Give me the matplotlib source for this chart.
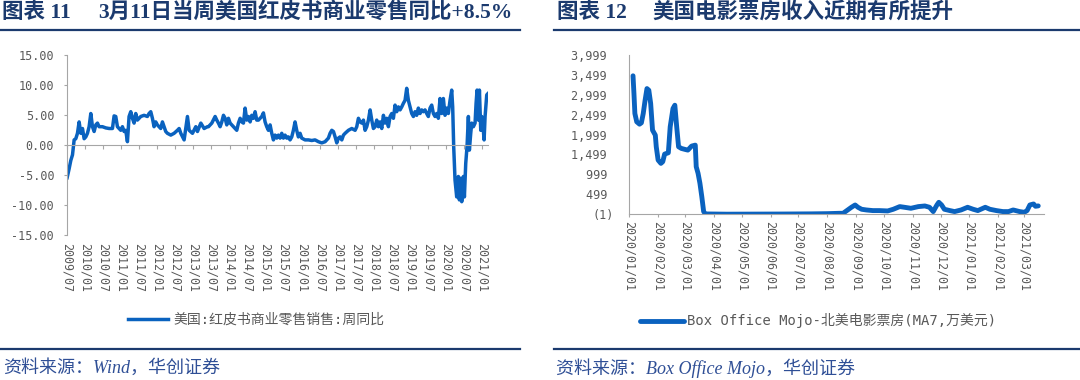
import matplotlib
matplotlib.use('Agg')
import matplotlib.pyplot as plt
import matplotlib.dates as mdates
from matplotlib.lines import Line2D
from matplotlib.ticker import FuncFormatter
from matplotlib.font_manager import FontProperties
from datetime import datetime

plt.rcParams['axes.unicode_minus'] = False

# ---------------- data: left chart (Redbook weekly YoY, %) ----------------
redbook_t = [
    2009.500, 2009.555, 2009.602, 2009.648, 2009.694, 2009.740, 2009.786, 2009.832, 2009.879, 2009.925,
    2009.971, 2010.017, 2010.063, 2010.109, 2010.156, 2010.202, 2010.248, 2010.294, 2010.340, 2010.386,
    2010.479, 2010.571, 2010.663, 2010.756, 2010.802, 2010.848, 2010.894, 2010.940, 2010.987, 2011.033,
    2011.079, 2011.125, 2011.171, 2011.217, 2011.264, 2011.310, 2011.356, 2011.402, 2011.448, 2011.494,
    2011.541, 2011.633, 2011.725, 2011.771, 2011.818, 2011.864, 2011.910, 2011.956, 2012.002, 2012.095,
    2012.141, 2012.187, 2012.233, 2012.279, 2012.372, 2012.464, 2012.556, 2012.603, 2012.649, 2012.741,
    2012.833, 2012.880, 2012.972, 2013.064, 2013.110, 2013.203, 2013.295, 2013.387,
    2013.415, 2013.508, 2013.600, 2013.646, 2013.692, 2013.739, 2013.785, 2013.831, 2013.877, 2013.923,
    2013.969, 2014.016, 2014.108, 2014.200, 2014.246, 2014.293, 2014.339, 2014.385, 2014.431, 2014.477,
    2014.523, 2014.570, 2014.616, 2014.662, 2014.708, 2014.754, 2014.800, 2014.847, 2014.893, 2014.939,
    2014.985, 2015.031, 2015.077, 2015.124, 2015.170, 2015.216, 2015.262, 2015.308, 2015.354, 2015.401,
    2015.447, 2015.493, 2015.539, 2015.585, 2015.631, 2015.678, 2015.724, 2015.770, 2015.816, 2015.862,
    2015.908, 2015.955, 2016.001, 2016.093, 2016.185, 2016.278, 2016.370, 2016.462, 2016.555, 2016.647,
    2016.739, 2016.785, 2016.832, 2016.878, 2016.924, 2016.970, 2017.016, 2017.062, 2017.109, 2017.155,
    2017.201,
    2017.293, 2017.386, 2017.478, 2017.524, 2017.570, 2017.617, 2017.663, 2017.709, 2017.755, 2017.801,
    2017.847, 2017.894, 2017.940, 2017.986, 2018.032, 2018.078, 2018.124, 2018.171, 2018.217, 2018.263,
    2018.309, 2018.355, 2018.401, 2018.448, 2018.494, 2018.540, 2018.586, 2018.632, 2018.678, 2018.725,
    2018.771, 2018.817, 2018.863, 2018.909, 2018.955, 2019.002, 2019.048, 2019.094, 2019.140, 2019.186,
    2019.232, 2019.279, 2019.325, 2019.371, 2019.417, 2019.463, 2019.509, 2019.556, 2019.602, 2019.648,
    2019.694, 2019.740, 2019.786, 2019.833, 2019.879, 2019.925, 2019.971, 2020.017, 2020.063, 2020.110,
    2020.156, 2020.183, 2020.211, 2020.248, 2020.294, 2020.340, 2020.368, 2020.405, 2020.433, 2020.479,
    2020.507, 2020.544, 2020.580, 2020.617, 2020.645, 2020.682, 2020.710, 2020.756, 2020.802, 2020.830,
    2020.857, 2020.894, 2020.922, 2020.959, 2020.987, 2021.015, 2021.052, 2021.079, 2021.125, 2021.155,
]
redbook_v = [
    -5.5, -4.0, -2.6, -1.7, 0.8, 1.0, 1.9, 3.8, 1.9, 2.7,
    1.0, 1.3, 1.9, 3.0, 5.2, 3.0, 2.2, 3.3, 3.6, 3.0,
    3.0, 2.8, 2.7, 2.7, 4.8, 4.7, 3.0, 2.7, 2.4, 3.0,
    2.2, 2.4, 0.5, 4.7, 5.5, 4.4, 3.6, 5.2, 4.1, 4.4,
    4.7, 4.9, 4.7, 5.2, 5.5, 4.4, 3.0, 3.8, 3.3, 2.7,
    3.8, 3.0, 2.2, 1.9, 1.6, 1.9, 2.4, 2.7, 1.9, 0.8,
    4.7, 2.4, 1.9, 3.0, 2.2, 3.6, 2.7, 3.0,
    3.0, 3.6, 4.7, 4.1, 3.6, 3.0, 3.8, 4.9, 4.4, 3.3,
    4.4, 3.6, 3.0, 2.4, 3.6, 4.4, 3.8, 3.6, 6.1, 4.1,
    4.7, 3.8, 4.9, 4.4, 5.5, 4.1, 4.1, 4.4, 4.7, 5.3,
    3.8, 3.0, 2.4, 3.3, 1.9, 0.8, 1.6, 1.1, 1.6, 1.1,
    1.9, 1.1, 1.6, 1.1, 1.3, 0.8, 1.3, 2.4, 3.8, 2.4,
    1.3, 1.9, 1.1, 0.8, 0.8, 0.7, 0.8, 0.5, 0.3, 0.5,
    1.1, 1.9, 2.4, 2.2, 1.3, 0.3, 1.1, 1.3, 0.8, 1.6,
    1.9,
    2.4, 2.7, 2.4, 3.0, 4.4, 3.8, 3.6, 4.1, 2.4, 3.0,
    4.1, 5.8, 4.1, 2.7, 3.0, 4.1, 3.0, 3.8, 2.7, 4.9,
    3.6, 4.4, 3.0, 4.7, 5.2, 4.4, 6.6, 5.5, 6.3, 5.8,
    6.3, 6.9, 7.4, 9.4, 7.4, 6.3, 5.2, 4.7, 5.5, 4.9,
    6.1, 5.2, 5.8, 5.5, 5.8, 5.2, 4.7, 6.1, 6.6, 5.2,
    4.7, 5.2, 4.4, 7.7, 5.2, 7.7, 4.9, 6.1, 5.2, 7.4,
    9.1, 6.3, -0.3, -5.9, -8.7, -5.3, -9.2, -5.6, -9.5, -5.3,
    -8.7, -3.1, -0.3, 4.7, -0.9, 1.9, 3.6, 3.0, 3.6, 6.9,
    9.1, 4.1, 9.1, 2.4, 4.7, 3.6, 0.8, 4.7, 8.3, 8.5,
]
left_xticks = ['2009/07', '2010/01', '2010/07', '2011/01', '2011/07', '2012/01', '2012/07',
               '2013/01', '2013/07', '2014/01', '2014/07', '2015/01', '2015/07', '2016/01',
               '2016/07', '2017/01', '2017/07', '2018/01', '2018/07', '2019/01', '2019/07',
               '2020/01', '2020/07', '2021/01']
left_yticks = [-15, -10, -5, 0, 5, 10, 15]
left_label = '美国:红皮书商业零售销售:周同比'

# ---------------- data: right chart (box office MA7, 10k USD) ----------------
box_dates = [
    '2020-01-05', '2020-01-06', '2020-01-07', '2020-01-09', '2020-01-12', '2020-01-14', '2020-01-16',
    '2020-01-18', '2020-01-20', '2020-01-22', '2020-01-24', '2020-01-26', '2020-01-29', '2020-01-30',
    '2020-02-01', '2020-02-04', '2020-02-06', '2020-02-08', '2020-02-12', '2020-02-14', '2020-02-17',
    '2020-02-19', '2020-02-21', '2020-02-23', '2020-02-26', '2020-03-01', '2020-03-04', '2020-03-08',
    '2020-03-12', '2020-03-13', '2020-03-15', '2020-03-17', '2020-03-19', '2020-03-21', '2020-03-23',
    '2020-04-15', '2020-05-15', '2020-06-15', '2020-07-15', '2020-08-01', '2020-08-14', '2020-08-18',
    '2020-08-23', '2020-08-27', '2020-08-31', '2020-09-03', '2020-09-07', '2020-09-12', '2020-09-19',
    '2020-09-26', '2020-10-05', '2020-10-11', '2020-10-18', '2020-10-23', '2020-10-30', '2020-11-07',
    '2020-11-14', '2020-11-19', '2020-11-23', '2020-11-27', '2020-11-29', '2020-12-02', '2020-12-05',
    '2020-12-11', '2020-12-16', '2020-12-23', '2020-12-30', '2021-01-05', '2021-01-10', '2021-01-18',
    '2021-01-23', '2021-01-30', '2021-02-06', '2021-02-12', '2021-02-17', '2021-02-24', '2021-03-01',
    '2021-03-04', '2021-03-07', '2021-03-11', '2021-03-13', '2021-03-16',
]
box_vals = [
    3470, 3025, 2525, 2317, 2258, 2292, 2525,
    2858, 3150, 3108, 2775, 2108, 1983, 1692,
    1358, 1275, 1317, 1508, 1541, 2192, 2650,
    2733, 2192, 1692, 1650, 1625, 1608, 1708,
    1733, 1192, 1025, 775, 442, 67, 8,
    2, 4, 6, 10, 15, 24, 24,
    108, 175, 233, 175, 125, 108, 92,
    92, 83, 125, 192, 175, 150, 192,
    208, 175, 67, 233, 300, 233, 125,
    92, 67, 108, 175, 125, 92, 175,
    125, 92, 67, 67, 108, 67, 50,
    92, 233, 258, 200, 210,
]
right_xticks = ['2020/01/01', '2020/02/01', '2020/03/01', '2020/04/01', '2020/05/01', '2020/06/01',
                '2020/07/01', '2020/08/01', '2020/09/01', '2020/10/01', '2020/11/01', '2020/12/01',
                '2021/01/01', '2021/02/01', '2021/03/01']
right_yticks = [-1, 499, 999, 1499, 1999, 2499, 2999, 3499, 3999]
right_label = 'Box Office Mojo-北美电影票房(MA7,万美元)'

# ---------------- style ----------------
W, H = 1080, 380
navy = '#1B3A6E'
foot_blue = '#2F4F96'
line_blue = '#0A62BF'
tick_gray = '#595959'
axis_gray = '#A6A6A6'
mono = 'DejaVu Sans Mono'
cjk_serif = ['Liberation Serif', 'Noto Sans CJK SC']
legend_font = FontProperties(family=[mono, 'Noto Sans CJK SC'], size=10)


def yr2num(y):
    yi = int(y)
    start = datetime(yi, 1, 1)
    end = datetime(yi + 1, 1, 1)
    return mdates.date2num(start + (end - start) * (y - yi))


def fx(px):
    return px / W


def fy(py):
    return 1 - py / H


fig = plt.figure(figsize=(W / 100, H / 100), dpi=100)

# ---------------- left chart ----------------
ax1 = fig.add_axes([fx(67), fy(234.7), fx(421), (180) / H])
x1 = [yr2num(t) for t in redbook_t]
l1, = ax1.plot(x1, redbook_v, color=line_blue, lw=2.5, solid_joinstyle='round', label=left_label)
ax1.set_xlim(yr2num(2009.5), yr2num(2021.16))
ax1.set_ylim(-15, 15)
ax1.set_yticks(left_yticks)
ax1.yaxis.set_major_formatter(FuncFormatter(lambda v, p: f'{v:.2f}'))
for s in ['top', 'right']:
    ax1.spines[s].set_visible(False)
ax1.spines['left'].set_color(axis_gray)
ax1.spines['bottom'].set_position(('data', 0))
ax1.spines['bottom'].set_color(axis_gray)
lx = [mdates.date2num(datetime.strptime(s, '%Y/%m')) for s in left_xticks]
ax1.set_xticks(lx)
ax1.tick_params(axis='x', length=3, width=0.8, color=axis_gray, labelbottom=False, direction='out')
ax1.tick_params(axis='y', length=2.2, width=0.8, color=axis_gray, labelcolor=tick_gray,
                labelsize=8.5, pad=7)
for lab in ax1.get_yticklabels():
    lab.set_fontfamily(mono)
sec1 = ax1.secondary_xaxis('bottom')
sec1.set_xticks(lx, labels=left_xticks)
sec1.spines['bottom'].set_visible(False)
sec1.tick_params(axis='x', length=0, pad=6, labelsize=8.4, labelcolor=tick_gray, labelrotation=-90)
for lab in sec1.get_xticklabels():
    lab.set_fontfamily(mono)

# ---------------- right chart ----------------
rx0 = mdates.date2num(datetime(2020, 1, 1))
rx1 = mdates.date2num(datetime(2021, 3, 22))
px_per_day = 395 / 425.0
ax2 = fig.add_axes([fx(629.3), fy(214.3), fx((rx1 - rx0) * px_per_day), 159.6 / H])
x2 = [mdates.date2num(datetime.strptime(d, '%Y-%m-%d')) for d in box_dates]
l2, = ax2.plot(x2, box_vals, color=line_blue, lw=3.5, solid_joinstyle='round',
               solid_capstyle='round', label=right_label)
ax2.set_xlim(rx0, rx1)
ax2.set_ylim(-1, 3999)
ax2.set_yticks(right_yticks)


def fmt_box(v, p):
    v = int(round(v))
    return f'({abs(v)})' if v < 0 else f'{v:,} '


ax2.yaxis.set_major_formatter(FuncFormatter(fmt_box))
for s in ['top', 'right']:
    ax2.spines[s].set_visible(False)
ax2.spines['left'].set_color(axis_gray)
ax2.spines['bottom'].set_color(axis_gray)
rxt = [mdates.date2num(datetime.strptime(s, '%Y/%m/%d')) for s in right_xticks]
ax2.set_xticks(rxt, labels=right_xticks)
ax2.tick_params(axis='x', length=2.5, width=0.8, color=axis_gray, labelcolor=tick_gray,
                labelsize=8.4, pad=2, labelrotation=-90)
ax2.tick_params(axis='y', length=0, labelcolor=tick_gray, labelsize=8.5, pad=11)
for lab in ax2.get_xticklabels() + ax2.get_yticklabels():
    lab.set_fontfamily(mono)

# ---------------- legends ----------------
fig.legend(handles=[l1], loc='center left', bbox_to_anchor=(fx(128), fy(320)),
           frameon=False, handlelength=2.9, handletextpad=0.35, borderpad=0,
           borderaxespad=0, prop=legend_font, labelcolor=tick_gray)
fig.legend(handles=[l2], loc='center left', bbox_to_anchor=(fx(640), fy(321)),
           frameon=False, handlelength=3.2, handletextpad=0.2, borderpad=0,
           borderaxespad=0, prop=legend_font, labelcolor=tick_gray)

# ---------------- titles / rules / sources ----------------
ty = fy(12.5)
fig.text(fx(2), ty, '图表 11', fontsize=15.5, fontweight='bold', color=navy, family=cjk_serif,
         ha='left', va='center')
fig.text(fx(98), ty, '3月11日当周美国红皮书商业零售同比+8.5%', fontsize=15.5, fontweight='bold',
         color=navy, family=cjk_serif, ha='left', va='center')
fig.text(fx(557), ty, '图表 12', fontsize=15.5, fontweight='bold', color=navy, family=cjk_serif,
         ha='left', va='center')
fig.text(fx(652), ty, '美国电影票房收入近期有所提升', fontsize=15.5, fontweight='bold',
         color=navy, family=cjk_serif, ha='left', va='center')

for yline in (30, 349):
    fig.add_artist(Line2D([0, fx(520)], [fy(yline), fy(yline)], color=navy, lw=1.6))
    fig.add_artist(Line2D([fx(554), 1], [fy(yline), fy(yline)], color=navy, lw=1.6))

fig.text(fx(3), fy(368), '资料来源：Wind，华创证券', fontsize=13, style='italic',
         color=foot_blue, family=cjk_serif, ha='left', va='center')
fig.text(fx(556), fy(368), '资料来源：Box Office Mojo，华创证券', fontsize=13, style='italic',
         color=foot_blue, family=cjk_serif, ha='left', va='center')

fig.savefig('out.png', dpi=100)
